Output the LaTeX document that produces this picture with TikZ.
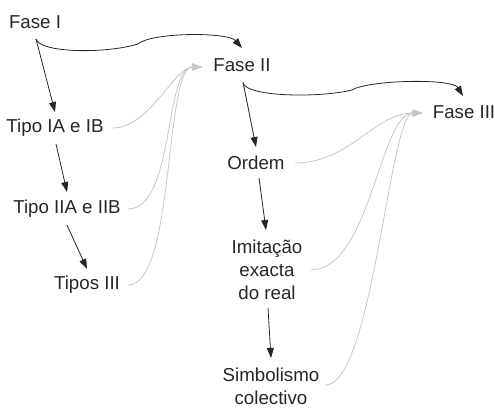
\documentclass[tikz,border=0pt]{standalone}
\usepackage{fontspec}
\setmainfont{Liberation Sans}
\usetikzlibrary{arrows.meta,calc}
\begin{document}
\begin{tikzpicture}[x=1pt,y=-1pt,
  lbl/.style={font=\fontsize{18.7}{23}\selectfont, inner sep=0pt, align=center, text=black!85},
  blk/.style={draw=black!85, line width=0.8pt, -{Triangle[length=10pt,width=7pt]}},
  gry/.style={draw=black!22, line width=0.8pt, -{Triangle[length=10pt,width=7pt]}}]
\useasboundingbox (0,0) rectangle (495,412);

% phases
\node[lbl] (f1) at (35,22) {Fase I};
\node[lbl] (f2) at (242,65) {Fase II};
\node[lbl] (f3) at (464,112) {Fase III};

% stages of phase I
\node[lbl] (t1) at (55,128) {Tipo IA e IB};
\node[lbl] (t2) at (67,209) {Tipo IIA e IIB};
\node[lbl] (t3) at (87,285) {Tipos III};

% stages of phase II
\node[lbl] (o) at (256,163) {Ordem};
\node[lbl] (im) at (267,270) {Imitação\\exacta\\do real};
\node[lbl] (sc) at (271,386) {Simbolismo\\colectivo};

% sequence within phase I
\draw[blk] ($(f1)+(1,17)$) -- ($(t1)+(0,-16)$);
\draw[blk] ($(t1)+(1,16)$) -- ($(t2)+(0,-17)$);
\draw[blk] ($(t2)+(0,16)$) -- ($(t3)+(0,-16)$);

% sequence within phase II
\draw[blk] ($(f2)+(1,17)$) -- ($(o)+(0,-16)$);
\draw[blk] ($(o)+(3,15)$) -- ($(im)+(-1,-40)$);
\draw[blk] ($(im)+(1,38)$) -- ($(sc)+(0,-28)$);

% phase to phase
\draw[blk] ($(f1)+(1,17)$) .. controls (40,53) and (105,54) .. (138,44)
  .. controls (152,32) and (228,32) .. ($(f2)+(0,-17)$);
\draw[blk] ($(f2)+(1,18)$) .. controls (247,97) and (320,98) .. (352,90)
  .. controls (368,80) and (452,78) .. ($(f3)+(-1,-16)$);

% stages feeding the next phase
\draw[gry] ($(t1.east)+(9,0)$) .. controls +(37,0) and +(-28,0) .. ($(f2.west)+(-11,2)$);
\draw[gry] ($(t2.east)+(7,0)$) .. controls +(47,0) and +(-38,0) .. ($(f2.west)+(-11,2)$);
\draw[gry] ($(t3.east)+(8,0)$) .. controls +(47,0) and +(-38,0) .. ($(f2.west)+(-11,2)$);

\draw[gry] ($(o.east)+(10,0)$) .. controls +(55,0) and +(-48,0) .. ($(f3.west)+(-10,1)$);
\draw[gry] ($(im.east)+(8,0)$) .. controls +(60,0) and +(-43,0) .. ($(f3.west)+(-10,1)$);
\draw[gry] ($(sc.east)+(6,-1)$) .. controls +(47,0) and +(-33,0) .. ($(f3.west)+(-10,1)$);
\end{tikzpicture}
\end{document}
